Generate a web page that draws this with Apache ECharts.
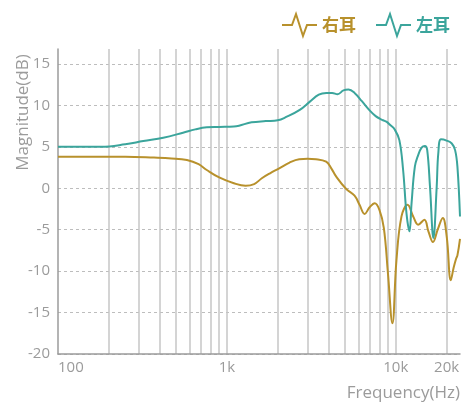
<!DOCTYPE html>
<html>
<head>
<meta charset="utf-8">
<script src="https://cdn.jsdelivr.net/npm/echarts@6/dist/echarts.min.js"></script>
<style>
  html, body { margin: 0; padding: 0; background: #fff; }
  #chart { width: 464px; height: 404px; }
</style>
</head>
<body>
<div id="chart"></div>
<script>
// 左耳 (teal) 频响
const leftFreq = [100, 180, 250, 320, 420, 550, 650, 760, 900, 1100, 1180, 1400, 1700, 2000, 2250, 2700, 3100, 3500, 3880, 4200, 4520, 4900, 5250, 5700, 6300, 7000, 7600, 8030, 8400, 8840, 9300, 9850, 10500, 11050, 11580, 12050, 12400, 12970, 13570, 14220, 14880, 15350, 15940, 16700, 17470, 17850, 18530, 20000, 21460, 22450, 23170, 24000];
const leftDb = [5.0, 5.0, 5.3, 5.7, 6.1, 6.7, 7.1, 7.35, 7.4, 7.45, 7.55, 7.95, 8.1, 8.2, 8.6, 9.45, 10.45, 11.3, 11.5, 11.5, 11.35, 11.8, 11.9, 11.5, 10.5, 9.4, 8.7, 8.4, 8.2, 8.0, 7.6, 7.1, 5.8, 2.2, -3.1, -5.2, -1.8, 2.6, 4.0, 4.9, 5.1, 4.6, 0.2, -6.0, 0.2, 4.2, 5.9, 5.75, 5.4, 4.6, 2.6, -3.4];

// 右耳 (gold) 频响
const rightFreq = [100, 250, 370, 470, 580, 680, 760, 900, 1100, 1290, 1450, 1610, 1800, 2040, 2350, 2680, 3000, 3370, 3870, 4150, 4440, 5090, 5700, 6100, 6540, 7000, 7500, 8000, 8500, 8990, 9550, 10090, 10810, 11740, 12680, 13570, 14770, 15600, 16600, 17700, 18970, 20040, 21170, 22000, 22750, 23170, 24000];
const rightDb = [3.8, 3.8, 3.7, 3.6, 3.4, 2.9, 2.2, 1.3, 0.6, 0.3, 0.5, 1.2, 1.8, 2.4, 3.1, 3.5, 3.55, 3.5, 3.2, 2.4, 1.4, -0.1, -0.9, -2.0, -3.1, -2.3, -1.8, -2.6, -4.8, -10.3, -16.3, -8.7, -3.4, -2.0, -3.4, -4.4, -3.8, -5.2, -6.5, -5.0, -3.6, -5.9, -11.1, -9.6, -8.5, -8.1, -6.1];

// 坐标轴刻度
const xGridTicks = [200, 300, 400, 500, 600, 700, 800, 900, 1000, 2000, 3000, 4000, 5000, 6000, 7000, 8000, 9000, 10000, 20000];
const xLabelTicks = [100, 1000, 10000, 20000];
const yTicks = [-20, -15, -10, -5, 0, 5, 10, 15];

const GOLD = '#b8912c';
const TEAL = '#3ba59c';
const GRAY = '#9b9b9b';
const FONT = 'Open Sans';

// 图例图标: 一个脉冲形状
const pulseIcon = 'path://M0 12 L10 12 L14 1 L21 23 L25 12 L35 12';

const toPairs = (xs, ys) => xs.map((x, i) => [x, ys[i]]);

const fmtFreq = v => v >= 1000 ? (v / 1000) + 'k' : String(v);

let myChart = echarts.init(document.getElementById('chart'));

let option = {
    animation: false,
    backgroundColor: '#fff',
    legend: {
        top: 8,
        right: 9,
        itemWidth: 35,
        itemHeight: 24,
        itemGap: 19,
        textStyle: { fontSize: 17, fontWeight: 'bold', fontFamily: 'Noto Sans CJK SC' },
        data: [
            { name: '右耳', icon: pulseIcon, itemStyle: { color: 'transparent', borderColor: GOLD, borderWidth: 2 }, textStyle: { color: GOLD } },
            { name: '左耳', icon: pulseIcon, itemStyle: { color: 'transparent', borderColor: TEAL, borderWidth: 2 }, textStyle: { color: TEAL } }
        ]
    },
    grid: { left: 58, right: 4, top: 49, bottom: 50, containLabel: false, outerBoundsMode: 'none' },
    xAxis: {
        type: 'log',
        logBase: 10,
        min: 100,
        max: 24000,
        name: 'Frequency(Hz)',
        nameLocation: 'end',
        nameGap: 0,
        nameMoveOverlap: false,
        nameTextStyle: { color: GRAY, fontSize: 17, fontFamily: FONT, align: 'right', verticalAlign: 'top', padding: [31, 0, 0, 0] },
        axisLine: { onZero: false, lineStyle: { color: GRAY, width: 1.5 } },
        axisTick: { show: false, customValues: xGridTicks },
        axisLabel: {
            customValues: xLabelTicks,
            alignMinLabel: 'left',
            color: GRAY, fontSize: 15, fontFamily: FONT, margin: 6,
            formatter: fmtFreq
        },
        splitLine: { show: true, lineStyle: { color: '#c6c6c6', width: 1.5, type: 'solid' } }
    },
    yAxis: {
        type: 'value',
        min: -20,
        max: 16.8,
        name: 'Magnitude(dB)',
        nameLocation: 'middle',
        nameRotate: 90,
        nameGap: 26,
        nameMoveOverlap: false,
        nameTextStyle: { color: GRAY, fontSize: 17, fontFamily: FONT, padding: [0, 0, 0, 178] },
        axisLine: { show: true, lineStyle: { color: GRAY, width: 1.5 } },
        axisTick: { show: false, customValues: yTicks },
        axisLabel: { customValues: yTicks, color: GRAY, fontSize: 15, fontFamily: FONT, margin: 8 },
        splitLine: { show: true, lineStyle: { color: '#bdbdbd', width: 1, type: [3, 3] } }
    },
    series: [
        {
            name: '右耳',
            type: 'line',
            data: toPairs(rightFreq, rightDb),
            smooth: 0.4,
            showSymbol: false,
            color: GOLD,
            lineStyle: { color: GOLD, width: 2 },
            z: 3
        },
        {
            name: '左耳',
            type: 'line',
            data: toPairs(leftFreq, leftDb),
            smooth: 0.4,
            showSymbol: false,
            color: TEAL,
            lineStyle: { color: TEAL, width: 2 },
            z: 3
        }
    ]
};

myChart.setOption(option);
</script>
</body>
</html>
